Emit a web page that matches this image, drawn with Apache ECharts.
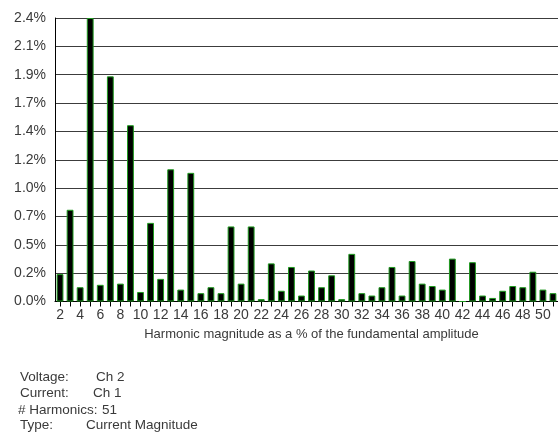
<!DOCTYPE html>
<html>
<head>
<meta charset="utf-8">
<script src="https://cdn.jsdelivr.net/npm/echarts@6/dist/echarts.min.js"></script>
<style>
  html, body { margin: 0; padding: 0; background: #fff; }
  #chart { width: 558px; height: 441px; }
</style>
</head>
<body>
<div id="chart"></div>
<script>
// harmonics 2..51
const harmonics = []
for (let h = 2; h <= 51; h++) harmonics.push(String(h))

// harmonic magnitude, % of fundamental
const magnitude = [
  0.23, 0.77, 0.12, 2.38, 0.14, 1.89, 0.15, 1.48, 0.08, 0.66,
  0.19, 1.11, 0.10, 1.08, 0.07, 0.12, 0.07, 0.63, 0.15, 0.63,
  0.02, 0.32, 0.09, 0.29, 0.05, 0.26, 0.12, 0.22, 0.02, 0.40,
  0.07, 0.05, 0.12, 0.29, 0.05, 0.34, 0.15, 0.13, 0.10, 0.36,
  0, 0.33, 0.05, 0.03, 0.09, 0.13, 0.12, 0.25, 0.10, 0.07
]

const yLabels = ['0.0%', '0.2%', '0.5%', '0.7%', '1.0%', '1.2%', '1.4%', '1.7%', '1.9%', '2.1%', '2.4%']

const infoKeys = ['Voltage:', 'Current:', '# Harmonics:', 'Type:']
const infoValues = ['Ch 2', 'Ch 1', '51', 'Current Magnitude']

const font = 'Liberation Sans, Arial, sans-serif'
const textColor = '#3a3a3a'

// bottom text block
const keyX = [20, 20, 18, 20]
const valX = [96, 93, 102, 86]
const rowY = [377, 393, 410, 425]
const graphic = []
infoKeys.forEach((k, i) => {
  graphic.push({ type: 'text', left: keyX[i], top: rowY[i] - 7,
    style: { text: k, fill: textColor, font: '13.5px ' + font } })
  graphic.push({ type: 'text', left: valX[i], top: rowY[i] - 7,
    style: { text: infoValues[i], fill: textColor, font: '13.5px ' + font } })
})

const option = {
  animation: false,
  grid: { left: 55, top: 18, width: 505, height: 283.5 },
  xAxis: {
    type: 'category',
    data: harmonics,
    name: 'Harmonic magnitude as a % of the fundamental amplitude',
    nameLocation: 'middle',
    nameGap: 26,
    nameTextStyle: { color: textColor, fontSize: 13, fontFamily: font, padding: [0, 0, 0, 10] },
    axisLine: { lineStyle: { color: '#000', width: 1 } },
    axisTick: { show: true, interval: 0, alignWithLabel: true, length: 5, lineStyle: { color: '#000' } },
    axisLabel: { interval: 1, margin: 7, color: textColor, fontSize: 14, fontFamily: font }
  },
  yAxis: {
    type: 'value',
    min: 0,
    max: 2.38,
    interval: 0.238,
    axisLine: { show: true, lineStyle: { color: '#000', width: 1 } },
    axisTick: { show: false },
    axisLabel: {
      margin: 9, color: textColor, fontSize: 14, fontFamily: font,
      formatter: (v, i) => yLabels[i]
    },
    splitLine: { lineStyle: { color: '#3c3c3c', width: 1 } }
  },
  series: [
    {
      type: 'bar',
      data: magnitude,
      barCategoryGap: '32%',
      itemStyle: { color: '#000', borderColor: '#1f9a1f', borderWidth: 1 }
    }
  ],
  graphic: graphic
}

let chart = echarts.init(document.getElementById('chart'), null, { renderer: 'canvas' })
chart.setOption(option)
</script>
</body>
</html>
